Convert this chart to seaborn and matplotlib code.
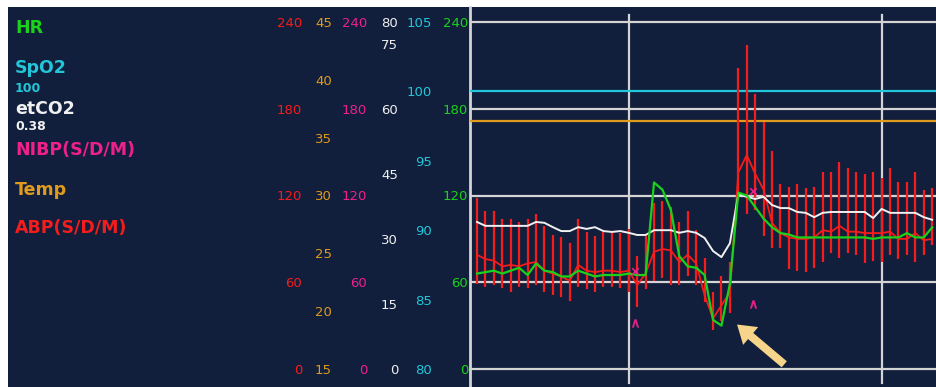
import numpy as np
import pandas as pd
import seaborn as sns
import matplotlib.pyplot as plt

# ---- trend values (one sample per ABP bar) ----
abp_sys = [118, 109, 109, 104, 104, 102, 104, 107, 99, 93, 91, 87, 104, 95,
           92, 95, 95, 94, 97, 78, 93, 115, 116, 112, 102, 109, 96, 77,
           53, 64, 74, 208, 224, 190, 171, 151, 128, 126, 128, 125, 126,
           136, 136, 143, 139, 136, 135, 136, 132, 139, 129, 129, 136, 124, 125]
abp_dia = [59, 57, 58, 56, 53, 57, 56, 58, 53, 51, 50, 47, 57, 55,
           53, 57, 57, 56, 53, 43, 55, 61, 63, 58, 58, 64, 58, 46,
           27, 33, 39, 120, 107, 110, 92, 84, 84, 69, 68, 67, 70,
           74, 80, 77, 80, 79, 73, 75, 74, 79, 76, 79, 74, 79, 86]
abp_mean = [79, 76, 75, 71, 72, 71, 73, 74, 68, 66, 64, 61, 72, 68,
            67, 68, 68, 67, 68, 58, 66, 81, 83, 82, 74, 79, 73, 51,
            35, 44, 53, 136, 148, 135, 124, 101, 94, 91, 90, 90, 91,
            96, 95, 99, 95, 95, 94, 94, 94, 95, 90, 90, 94, 89, 90]
hr = [66, 67, 68, 66, 68, 70, 65, 73, 68, 67, 64, 64, 68, 66,
      64, 65, 65, 65, 66, 65, 65, 129, 124, 110, 78, 71, 70, 65,
      34, 30, 59, 122, 120, 112, 104, 98, 94, 93, 91, 91, 91,
      91, 91, 91, 91, 91, 91, 90, 91, 91, 91, 94, 91, 91, 98]
etco2 = [33.9, 33.0, 33.0, 33.0, 33.0, 33.0, 33.0, 33.9, 33.7, 32.7, 31.8,
         31.8, 32.7, 32.3, 32.7, 31.8, 31.6, 31.8, 31.4, 30.9, 30.9, 32.0,
         32.0, 32.0, 31.4, 31.8, 31.4, 30.2, 27.2, 25.8, 29.0, 40.3, 39.7,
         39.2, 39.7, 37.8, 37.1, 37.1, 36.2, 36.0, 35.0, 36.0, 36.2, 36.2,
         36.2, 36.2, 36.2, 34.8, 36.9, 36.0, 36.0, 36.0, 36.0, 35.0, 34.4]
spo2_value = 100
temp_value = 36.4

nibp_time = [18.7, 32.8]
nibp_x = [68, 123]
nibp_caret = [32, 45]

# scale ticks printed in the left columns
abp_ticks = [0, 60, 120, 180, 240]
temp_ticks = [15, 20, 25, 30, 35, 40, 45]
etco2_ticks = [0, 15, 30, 45, 60, 75, 80]
spo2_ticks = [80, 85, 90, 95, 100, 105]
time_grid = [18, 48]

left_labels = ['HR', 'SpO2', '100', 'etCO2', '0.38', 'NIBP(S/D/M)', 'Temp', 'ABP(S/D/M)']

df = pd.DataFrame({'t': np.arange(len(hr)), 'hr': hr, 'etco2': etco2,
                   'abp_sys': abp_sys, 'abp_dia': abp_dia, 'abp_mean': abp_mean})

# ---- colours / layout (pixels of the 936x387 screen grab) ----
NAVY = '#111f3c'
GRID = '#d4d4d4'
C_HR, C_SPO2, C_CO2 = '#1ad21a', '#22c6d8', '#f0f0f0'
C_NIBP, C_TEMP, C_ABP = '#f0208a', '#e09a1c', '#f51c1c'

W, H = 936, 387
TOP, BOTTOM = 7, 387
PLOT_X0 = 470
Y_LO, Y_HI = 369, 22          # pixel rows of scale min / max

def box(x0, y0, x1, y1):
    return [x0 / W, 1 - y1 / H, (x1 - x0) / W, (y1 - y0) / H]

def scale_axis(a, lo, hi, ticks, color, right_px):
    per = (Y_LO - Y_HI) / (hi - lo)
    a.set_ylim(lo - (BOTTOM - Y_LO) / per, hi + (Y_HI - TOP) / per)
    a.set_yticks(ticks)
    a.yaxis.tick_left()
    a.spines['left'].set_position(('axes', (right_px - PLOT_X0) / (W - PLOT_X0)))
    for s in a.spines.values():
        s.set_visible(False)
    a.tick_params(axis='y', length=0, pad=0, labelcolor=color, labelsize=9.5)

plt.rcParams['font.family'] = ['DejaVu Sans']
fig = plt.figure(figsize=(9.36, 3.87), dpi=100)
fig.patch.set_facecolor('white')

panel = fig.add_axes(box(8, TOP, PLOT_X0, BOTTOM))
panel.set_facecolor(NAVY)
panel.set_xticks([])
panel.set_yticks([])
for s in panel.spines.values():
    s.set_visible(False)

ax = fig.add_axes(box(PLOT_X0, TOP, W, BOTTOM))
ax.set_facecolor(NAVY)
ax.set_xlim(-0.83, 54.45)
scale_axis(ax, 0, 240, abp_ticks, C_HR, 468)
ax.tick_params(axis='x', length=0, labelbottom=False)
ax.tick_params(axis='y', labelleft=False)
ax.grid(True, axis='y', color=GRID, linewidth=1.6)
# vertical time lines stop a little short of the top edge
for tg in time_grid:
    ax.axvline(tg, ymin=0.01, ymax=0.98, color=GRID, linewidth=1.6)
ax.set_xticks([])
ax.spines['left'].set_visible(True)
ax.spines['left'].set_position(('axes', 0))
ax.spines['left'].set_color(GRID)
ax.spines['left'].set_linewidth(2)

# Temp (orange) and SpO2 (cyan) flat lines
ax_temp = ax.twinx()
scale_axis(ax_temp, 15, 45, temp_ticks, C_TEMP, 332)
ax_temp.axhline(temp_value, color=C_TEMP, linewidth=1.6)

ax_spo2 = ax.twinx()
scale_axis(ax_spo2, 80, 105, spo2_ticks, C_SPO2, 432)
ax_spo2.axhline(spo2_value, color=C_SPO2, linewidth=1.6)

# ABP: systolic/diastolic bars + mean line
ax_abp = ax.twinx()
scale_axis(ax_abp, 0, 240, abp_ticks, C_ABP, 302)
ax_abp.vlines(df['t'], df['abp_dia'], df['abp_sys'], color=C_ABP, linewidth=1.6)
sns.lineplot(data=df, x='t', y='abp_mean', ax=ax_abp, color=C_ABP, linewidth=1.3)

# etCO2 (white)
ax_co2 = ax.twinx()
scale_axis(ax_co2, 0, 80, etco2_ticks, C_CO2, 398)
sns.lineplot(data=df, x='t', y='etco2', ax=ax_co2, color=C_CO2, linewidth=1.4)

# HR (green)
ax_hr = ax.twinx()
scale_axis(ax_hr, 0, 240, abp_ticks, C_HR, 468)
sns.lineplot(data=df, x='t', y='hr', ax=ax_hr, color=C_HR, linewidth=1.6)

# NIBP markers (magenta)
ax_nibp = ax.twinx()
scale_axis(ax_nibp, 0, 240, abp_ticks, C_NIBP, 367)
ax_nibp.scatter(nibp_time, nibp_x, marker='x', s=22, color=C_NIBP, linewidths=1.2)
ax_nibp.scatter(nibp_time, nibp_caret, marker=r'$\wedge$', s=30, color=C_NIBP,
                linewidths=0.4)

for a in (ax_temp, ax_spo2, ax_abp, ax_co2, ax_hr, ax_nibp):
    a.set_xlim(ax.get_xlim())
    a.set_xlabel('')
    a.set_ylabel('')

# arrow pointing at the HR dip
i_min = int(np.argmin(hr))
ax_hr.annotate('', xy=(i_min + 1.6, hr[i_min] + 2), xytext=(i_min + 7.7, hr[i_min] - 28),
               arrowprops=dict(arrowstyle='simple,head_width=1.05,head_length=0.8,tail_width=0.36',
                               fc='#f6d48a', ec='none', mutation_scale=16))

# parameter names in the left panel
label_colors = [C_HR, C_SPO2, C_SPO2, C_CO2, C_CO2, C_NIBP, C_TEMP, C_ABP]
label_rows = [28, 68, 88, 109, 127, 150, 190, 228]
label_sizes = [12.5, 12.5, 9, 12.5, 9, 12.5, 12.5, 12.5]
for txt, col, y, fs in zip(left_labels, label_colors, label_rows, label_sizes):
    fig.text(15 / W, 1 - y / H, txt, color=col, fontsize=fs, fontweight='bold',
             ha='left', va='center')

fig.savefig('out.png', dpi=100, facecolor=fig.get_facecolor())
